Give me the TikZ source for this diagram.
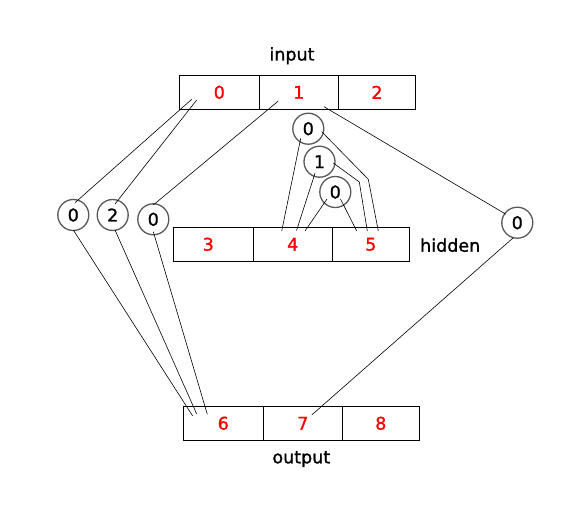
\documentclass[tikz,border=0pt]{standalone}
\usepackage{fontspec}
\setmainfont[FakeBold=1.2]{DejaVu Sans}
\usetikzlibrary{calc}
\begin{document}
\begin{tikzpicture}[x=1pt,y=-1pt,
  every node/.style={font=\fontsize{17.5}{20}\selectfont},
  cell/.style={draw=black,line width=0.8pt,minimum height=34pt,inner sep=0pt,text=red},
  unit/.style={circle,draw=black!65,line width=1.3pt,minimum size=31pt,inner sep=0pt,fill=white},
  link/.style={draw=black,line width=0.6pt},
  caption/.style={inner sep=0pt}]
\useasboundingbox (0,0) rectangle (585,516);

% input layer
\node[cell,minimum width=80pt] (in0) at (219.3,92.3) {0};
\node[cell,minimum width=79pt] (in1) at (298.8,92.3) {1};
\node[cell,minimum width=77.4pt] (in2) at (377,92.3) {2};
\node[caption,anchor=base] (inlbl) at (292,60.5) {input};

% hidden layer
\node[cell,minimum width=80pt] (h3) at (213.3,244.3) {\hspace*{-10pt}3};
\node[cell,minimum width=79pt] (h4) at (292.8,244.3) {4};
\node[cell,minimum width=77pt] (h5) at (370.8,244.3) {5};
\node[caption,anchor=base west] (hidlbl) at (420,251.7) {hidden};

% output layer
\node[cell,minimum width=80pt] (out6) at (223.3,423.3) {6};
\node[cell,minimum width=79pt] (out7) at (302.8,423.3) {7};
\node[cell,minimum width=77pt] (out8) at (380.8,423.3) {8};
\node[caption,anchor=base] (outlbl) at (301.3,463.3) {output};

% weight circles
\node[unit] (cl0) at (73.3,215) {0};
\node[unit] (cl2) at (112.7,215) {2};
\node[unit] (cl0b) at (153.3,219.3) {0};
\node[unit] (cr) at (517.3,222.7) {0};
\node[unit] (ct) at (308.3,128.7) {0};
\node[unit] (cm) at (319.5,161.7) {1};
\node[unit] (cb) at (335.3,192) {0};

% bends of the two routed links
\coordinate (bend1) at (368.3,179.3);
\coordinate (bend2) at (359.3,182);

% input to weights
\draw[link] ($(in0)+(-27.6,7)$) -- ($(cl0)+(1.7,-12.3)$);
\draw[link] ($(in0)+(-22.6,7.7)$) -- ($(cl2)+(2.3,-11)$);
\draw[link] ($(in1)+(-20.5,8.7)$) -- ($(cl0b)+(0,-14.3)$);
\draw[link] ($(in1)+(25.2,14.4)$) -- ($(cr)+(-11.3,-8.4)$);

% weights to output
\draw[link] ($(cl0)+(0,15)$) -- ($(out6)+(-30.6,-7.3)$);
\draw[link] ($(cl2)+(2.3,15)$) -- ($(out6)+(-26.6,-9.3)$);
\draw[link] ($(cl0b)+(0,12.4)$) -- ($(out6)+(-16,-9)$);
\draw[link] ($(cr)+(-4,15)$) -- ($(out7)+(8.9,-8.3)$);

% weights to hidden
\draw[link] ($(ct)+(-7.6,9.6)$) -- ($(h4)+(-11.1,-13.3)$);
\draw[link] ($(ct)+(13.4,3)$) -- (bend1) -- ($(h5)+(7.5,-13.3)$);
\draw[link] ($(cm)+(-4.5,11.6)$) -- ($(h4)+(3.7,-13.8)$);
\draw[link] ($(cm)+(13.8,1.3)$) -- (bend2) -- ($(h5)+(-3.5,-13.3)$);
\draw[link] ($(cb)+(-8.3,7)$) -- ($(h4)+(12.2,-13.3)$);
\draw[link] ($(cb)+(5.2,7)$) -- ($(h5)+(-14.1,-13.3)$);
\end{tikzpicture}
\end{document}
